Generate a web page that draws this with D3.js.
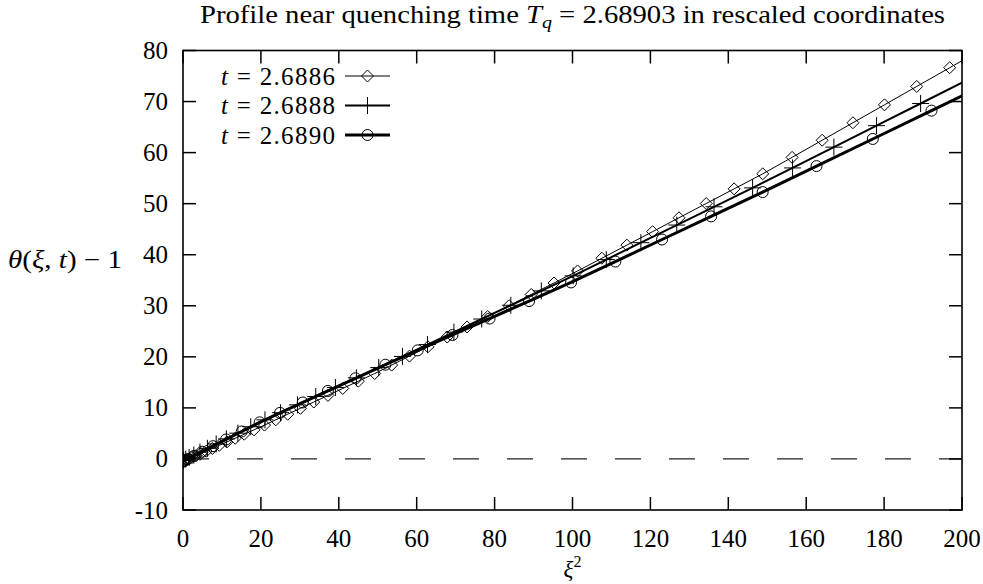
<!DOCTYPE html>
<html><head><meta charset="utf-8">
<script src="https://cdn.jsdelivr.net/npm/d3@7"></script>
<style>body{margin:0;background:#fff} text{font-family:"Liberation Serif","DejaVu Serif",serif;fill:#000}</style>
</head><body><svg id="c" width="983" height="584"></svg>
<script>
const xTicks=[0,20,40,60,80,100,120,140,160,180,200];
const yTicks=[-10,0,10,20,30,40,50,60,70,80];
const seriesLabels=["2.6886","2.6888","2.6890"];
// t = 2.6886 (diamonds)
const xi2A=[0,0.09,0.37,0.84,1.49,2.33,3.35,4.56,5.95,7.54,9.30,11.26,13.40,15.72,18.23,20.93,23.81,26.88,30.14,33.58,37.21,41.02,45.02,49.21,53.58,58.14,62.89,67.82,72.93,78.23,83.72,89.40,95.26,101.30,107.54,113.96,120.56,127.35,134.33,141.49,148.84,156.38,164.10,172.00,180.10,188.38,196.84,205.49];
const thA=[-0.50,-0.47,-0.37,-0.22,0.01,0.29,0.64,1.05,1.52,2.06,2.66,3.33,4.05,4.85,5.70,6.63,7.66,8.76,9.92,11.15,12.44,13.81,15.23,16.73,18.38,20.14,21.97,23.88,25.85,27.90,30.02,32.21,34.47,36.82,39.31,41.88,44.52,47.24,50.03,52.90,55.84,59.07,62.42,65.85,69.36,72.96,76.63,80.38];
// t = 2.6888 (crosses)
const xi2B=[0,0.17,0.70,1.57,2.78,4.35,6.26,8.52,11.13,14.09,17.39,21.04,25.04,29.39,34.08,39.13,44.52,50.25,56.34,62.77,69.56,76.69,84.16,91.99,100.16,108.68,117.55,126.77,136.33,146.24,156.50,167.11,178.06,189.37,201.02];
const thB=[-0.30,-0.23,-0.04,0.29,0.76,1.35,2.08,2.94,3.93,5.05,6.31,7.66,9.06,10.59,12.23,13.99,15.88,17.89,20.08,22.40,24.84,27.41,30.10,32.92,35.86,39.05,42.36,45.81,49.39,53.09,57.00,61.07,65.28,69.62,74.09];
// t = 2.6890 (circles)
const xi2C=[0,0.31,1.23,2.77,4.92,7.69,11.07,15.07,19.68,24.91,30.75,37.20,44.28,51.96,60.26,69.18,78.71,88.86,99.62,111.00,122.99,135.59,148.82,162.65,177.10,192.17,207.85];
const thC=[-0.50,-0.38,-0.02,0.58,1.42,2.50,3.82,5.38,7.17,9.02,11.06,13.32,15.80,18.46,21.27,24.28,27.50,30.93,34.57,38.66,42.98,47.51,52.27,57.36,62.67,68.22,73.99];

const svg=d3.select("#c");
const L=183,R=962,T=50.5,B=510;
const x=d3.scaleLinear().domain([0,200]).range([L,R]);
const y=d3.scaleLinear().domain([-10,80]).range([B,T]);
const FS=25;

svg.append("defs").append("clipPath").attr("id","clip").append("rect")
  .attr("x",L).attr("y",T).attr("width",R-L).attr("height",B-T);

// zero dashed line
svg.append("line").attr("x1",x(0)).attr("x2",x(200)).attr("y1",y(0)).attr("y2",y(0))
  .attr("stroke","#222").attr("stroke-width",1.2).attr("stroke-dasharray","26,28");

// ticks (inward, mirrored)
const tl=13;
const tg=svg.append("g").attr("stroke","#000").attr("stroke-width",1.5);
xTicks.forEach(v=>{
  tg.append("line").attr("x1",x(v)).attr("x2",x(v)).attr("y1",B).attr("y2",B-tl);
  tg.append("line").attr("x1",x(v)).attr("x2",x(v)).attr("y1",T).attr("y2",T+tl);
});
yTicks.forEach(v=>{
  tg.append("line").attr("x1",L).attr("x2",L+tl).attr("y1",y(v)).attr("y2",y(v));
  tg.append("line").attr("x1",R).attr("x2",R-tl).attr("y1",y(v)).attr("y2",y(v));
});

// tick labels
xTicks.forEach(v=>{
  svg.append("text").attr("x",x(v)).attr("y",B+37).attr("text-anchor","middle")
    .attr("font-size",FS).text(v);
});
yTicks.forEach(v=>{
  svg.append("text").attr("x",L-15).attr("y",y(v)+8.5).attr("text-anchor","end")
    .attr("font-size",FS).text(v);
});

// markers
function diamond(g,cx,cy){g.append("path").attr("d",`M${cx-6},${cy}L${cx},${cy-6}L${cx+6},${cy}L${cx},${cy+6}Z`).attr("fill","none").attr("stroke","#000").attr("stroke-width",1);}
function cross(g,cx,cy){g.append("path").attr("d",`M${cx-8.5},${cy}H${cx+8.5}M${cx},${cy-8.5}V${cy+8.5}`).attr("fill","none").attr("stroke","#000").attr("stroke-width",1);}
function circ(g,cx,cy){g.append("circle").attr("cx",cx).attr("cy",cy).attr("r",5.5).attr("fill","none").attr("stroke","#000").attr("stroke-width",1);}

const series=[
  {xs:xi2A,ys:thA,w:1,m:diamond},
  {xs:xi2B,ys:thB,w:2,m:cross},
  {xs:xi2C,ys:thC,w:3,m:circ}
];
const plot=svg.append("g").attr("clip-path","url(#clip)");
const line=d3.line().x(d=>x(d[0])).y(d=>y(d[1]));
series.forEach(s=>{
  const pts=s.xs.map((v,i)=>[v,s.ys[i]]);
  plot.append("path").datum(pts).attr("d",line).attr("fill","none").attr("stroke","#000").attr("stroke-width",s.w);
  const g=plot.append("g");
  pts.filter(p=>p[0]<=200).forEach(p=>s.m(g,x(p[0]),y(p[1])));
});

// frame
svg.append("rect").attr("x",L).attr("y",T).attr("width",R-L).attr("height",B-T)
  .attr("fill","none").attr("stroke","#000").attr("stroke-width",1.6);

// legend
const legY=[76,105.5,135];
series.forEach((s,i)=>{
  const t=svg.append("text").attr("x",221).attr("y",legY[i]+8.5).attr("font-size",FS)
    .attr("textLength",114).attr("lengthAdjust","spacing");
  t.append("tspan").attr("font-style","italic").text("t");
  t.append("tspan").text(" = "+seriesLabels[i]);
  svg.append("line").attr("x1",345).attr("x2",390).attr("y1",legY[i]).attr("y2",legY[i]).attr("stroke","#000").attr("stroke-width",s.w);
  s.m(svg,367.5,legY[i]);
});

// title
const tt=svg.append("text").attr("x",(L+R)/2).attr("y",23).attr("text-anchor","middle").attr("font-size",FS)
  .attr("textLength",745).attr("lengthAdjust","spacingAndGlyphs");
tt.append("tspan").text("Profile near quenching time ");
tt.append("tspan").attr("font-style","italic").text("T");
tt.append("tspan").attr("font-style","italic").attr("font-size",FS*0.7).attr("dy",5).text("q");
tt.append("tspan").attr("dy",-5).text(" = 2.68903 in rescaled coordinates");

// y label
const yl=svg.append("text").attr("x",8).attr("y",268).attr("font-size",FS)
  .attr("textLength",114).attr("lengthAdjust","spacingAndGlyphs");
yl.append("tspan").attr("font-style","italic").text("θ");
yl.append("tspan").text("(");
yl.append("tspan").attr("font-style","italic").text("ξ");
yl.append("tspan").text(", ");
yl.append("tspan").attr("font-style","italic").text("t");
yl.append("tspan").text(") − 1");

// x label
const xl=svg.append("text").attr("x",(L+R)/2).attr("y",577).attr("text-anchor","middle").attr("font-size",23);
xl.append("tspan").attr("font-style","italic").text("ξ");
xl.append("tspan").attr("font-size",16).attr("dy",-10).text("2");
</script></body></html>
